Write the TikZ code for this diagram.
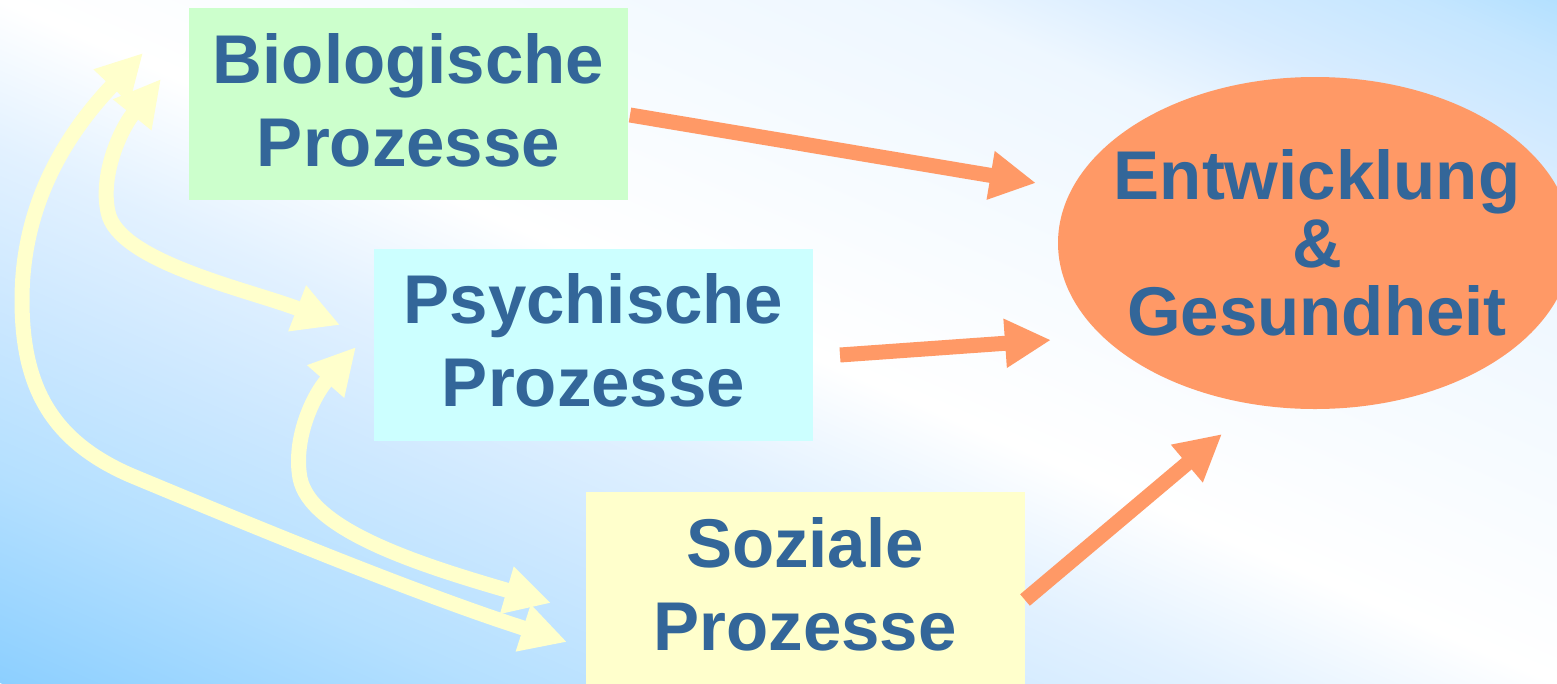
\documentclass[tikz,border=0pt]{standalone}
\usepackage{fontspec}
\setmainfont{Liberation Sans}
\usetikzlibrary{arrows.meta}
\definecolor{txtblue}{HTML}{336699}
\definecolor{biofill}{HTML}{CCFFCC}
\definecolor{psyfill}{HTML}{CCFFFF}
\definecolor{sozfill}{HTML}{FFFFCC}
\definecolor{orangefill}{HTML}{FF9966}
\definecolor{bgA}{HTML}{8CCFFF}
\definecolor{bgB}{HTML}{B5E0FF}
\definecolor{bgC}{HTML}{CDE8FF}
\definecolor{bgD}{HTML}{E2F1FF}
\definecolor{bgE}{HTML}{FFFFFF}
\definecolor{bgF}{HTML}{EEF7FF}
\definecolor{bgG}{HTML}{D8ECFF}
\definecolor{bgH}{HTML}{C5E6FF}
\definecolor{bgI}{HTML}{B3E0FF}
\pgfdeclareverticalshading{bgshade}{100bp}{color(0bp)=(bgA); color(25bp)=(bgA);
  color(32.75bp)=(bgB); color(39bp)=(bgC); color(44.5bp)=(bgD); color(50bp)=(bgE);
  color(64.75bp)=(bgF); color(68.5bp)=(bgG); color(72.75bp)=(bgH);
  color(75bp)=(bgI); color(100bp)=(bgI)}
\begin{document}
\begin{tikzpicture}[x=1pt,y=-1pt,
  box/.style={rectangle, inner sep=0pt, text=txtblue, align=center,
    font=\fontsize{69}{83}\selectfont\bfseries, text depth=9pt,
    minimum width=439pt, minimum height=192pt},
  orangearrow/.style={draw=orangefill, line width=15pt,
    -{Triangle[length=46pt,width=46pt]}},
  yellowarrow/.style={draw=sozfill, line width=15pt,
    {Triangle[length=46pt,width=46pt]}-{Triangle[length=46pt,width=46pt]}}]
\path[use as bounding box, clip] (0,0) rectangle (1557,683);
\begin{scope}[transform canvas={rotate around={-23.68:(778.5,341.5)}}]
  \shade[shading=bgshade] (-81.5,-283.9) rectangle (1638.5,966.9);
\end{scope}

\node[box, fill=biofill] (bio) at (408.5,104) {Biologische\\Prozesse};
\node[box, fill=psyfill] (psy) at (593.5,344.5) {Psychische\\Prozesse};
\node[box, fill=sozfill] (soz) at (805,588) {Soziale\\Prozesse};

\fill[orangefill] (1315,243) ellipse [x radius=257, y radius=166];
\node[text=txtblue, align=center, inner sep=0pt,
  font=\fontsize{69}{68}\selectfont\bfseries] (ent) at (1317,243)
  {Entwicklung\\\&\\Gesundheit};

% orange connectors
\coordinate (o1s) at (630,115);  \coordinate (o1e) at (1036,183);
\coordinate (o2s) at (840,355);  \coordinate (o2e) at (1051,340);
\coordinate (o3s) at (1025,600); \coordinate (o3e) at (1222,434);
\draw[orangearrow] (o1s) -- (o1e);
\draw[orangearrow] (o2s) -- (o2e);
\draw[orangearrow] (o3s) -- (o3e);

% yellow connectors
\coordinate (aS) at (161,79);  \coordinate (aE) at (340,325);
\coordinate (bS) at (143,53);  \coordinate (bE) at (567,642);
\coordinate (cS) at (356,347); \coordinate (cE) at (551,603);
\draw[yellowarrow] (aS) .. controls (120,130) and (100,175) .. (108,212)
  .. controls (118,262) and (250,290) .. (aE);
\draw[yellowarrow] (bS) .. controls (70,130) and (22,200) .. (22,300)
  .. controls (22,385) and (50,440) .. (130,475)
  .. controls (250,525) and (417,594) .. (bE);
\draw[yellowarrow] (cS) .. controls (312,397) and (293,440) .. (300,478)
  .. controls (310,530) and (420,565) .. (cE);
\end{tikzpicture}
\end{document}
